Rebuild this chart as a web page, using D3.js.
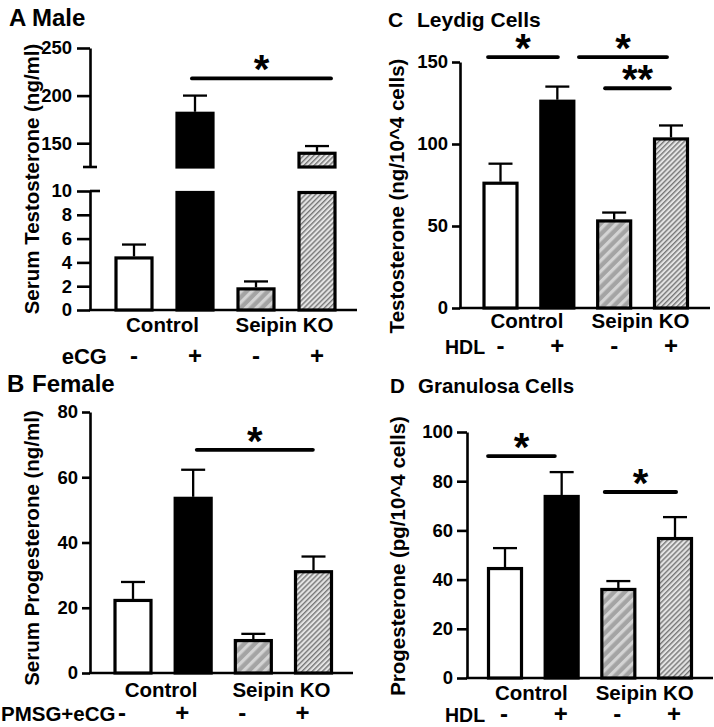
<!DOCTYPE html>
<html><head><meta charset="utf-8">
<script src="https://cdn.jsdelivr.net/npm/d3@7"></script>
<style>
body{margin:0;background:#fff}
svg{font-family:"Liberation Sans",Arial,Helvetica,sans-serif;font-weight:bold}
</style>
</head><body>
<svg id="chart" width="714" height="727"></svg>
<script>
// ---------------- DATA ----------------
const groups = ["Control", "Seipin KO"];
const conditions = ["Control -", "Control +", "Seipin KO -", "Seipin KO +"];
const signs = ["-", "+", "-", "+"];

// A: Male serum testosterone (ng/ml)
const maleMean = [4.5, 183, 1.9, 141];
const maleSem  = [1.0, 17, 0.5, 6];
const maleTicksLow = [0, 2, 4, 6, 8, 10];
const maleTicksHigh = [150, 200, 250];
const maleSig = [{from: 0.95, to: 3.23, y: 218, label: "*"}];

// B: Female serum progesterone (ng/ml)
const femaleMean = [22.7, 54, 10.4, 31.5];
const femaleSem  = [5.2, 8.3, 1.6, 4.2];
const femaleTicks = [0, 20, 40, 60, 80];
const femaleSig = [{from: 1.06, to: 2.99, y: 68.4, label: "*"}];

// C: Leydig cells testosterone (ng/10^4 cells)
const leydigMean = [77, 127, 54, 104];
const leydigSem  = [11, 8, 4.2, 7.3];
const leydigTicks = [0, 50, 100, 150];
const leydigSig = [
  {from: -0.22, to: 1.01, y: 153, label: "*"},
  {from: 1.38, to: 2.93, y: 153, label: "*"},
  {from: 1.84, to: 2.98, y: 134, label: "**"}
];

// D: Granulosa cells progesterone (pg/10^4 cells)
const granMean = [45.1, 74.4, 36.6, 57.3];
const granSem  = [7.7, 9.3, 2.8, 8.1];
const granTicks = [0, 20, 40, 60, 80, 100];
const granSig = [
  {from: -0.3, to: 0.88, y: 90.2, label: "*"},
  {from: 1.76, to: 3.02, y: 75.6, label: "*"}
];

// ---------------- DRAWING ----------------
const svg = d3.select("#chart");
const defs = svg.append("defs");

// hatch patterns
const pA = defs.append("pattern").attr("id", "hatchDark").attr("patternUnits", "userSpaceOnUse")
  .attr("width", 7.5).attr("height", 7.5).attr("patternTransform", "rotate(45)");
pA.append("rect").attr("width", 7.5).attr("height", 7.5).attr("fill", "#a4a4a4");
pA.append("rect").attr("x", 0).attr("width", 3.2).attr("height", 7.5).attr("fill", "#d4d4d4");

const pB = defs.append("pattern").attr("id", "hatchLight").attr("patternUnits", "userSpaceOnUse")
  .attr("width", 3.6).attr("height", 3.6).attr("patternTransform", "rotate(45)");
pB.append("rect").attr("width", 3.6).attr("height", 3.6).attr("fill", "#e4e4e4");
pB.append("rect").attr("x", 0).attr("width", 1.4).attr("height", 3.6).attr("fill", "#777777");

const fills = ["#ffffff", "#000000", "url(#hatchDark)", "url(#hatchLight)"];

function drawPanel(cfg) {
  const g = svg.append("g");
  const step = (cfg.c3 - cfg.c0) / 3;
  const pad = 1 - cfg.bw / step;
  const x = d3.scaleBand().domain(conditions)
    .range([cfg.c0 - step / 2, cfg.c3 + step / 2])
    .paddingInner(pad).paddingOuter(pad / 2);
  const xi = d3.scaleLinear().domain([0, 3]).range([cfg.c0, cfg.c3]);
  const cx = c => x(c) + x.bandwidth() / 2;

  const segs = cfg.segs.map(s => ({...s, y: d3.scaleLinear().domain(s.domain).range(s.range)}));
  const segFor = v => segs.find(s => v >= s.domain[0] && v <= s.domain[1]) || segs[segs.length - 1];
  const yOf = v => segFor(v).y(v);

  // axes
  segs.forEach((s, k) => {
    const ax = g.append("g").attr("transform", `translate(${cfg.axisX},0)`)
      .call(d3.axisLeft(s.y).tickValues(s.ticks).tickSize(cfg.tickSize).tickPadding(cfg.tickPad)
        .tickSizeOuter(0).tickFormat(d3.format("d")));
    ax.select(".domain").attr("stroke", "#000").attr("stroke-width", 2.6);
    ax.selectAll(".tick line").attr("stroke", "#000").attr("stroke-width", 2.6);
    ax.selectAll(".tick text").attr("fill", "#000").style("font-size", "18.5px")
      .style("font-family", "'Liberation Sans',Arial,sans-serif").style("font-weight", "bold");
    if (segs.length > 1) {
      if (k === 0) {
        g.append("line").attr("x1", cfg.axisX).attr("x2", cfg.axisX + 10)
          .attr("y1", s.y(s.domain[1])).attr("y2", s.y(s.domain[1]))
          .attr("stroke", "#000").attr("stroke-width", 2.6);
      } else {
        g.append("line").attr("x1", cfg.axisX - 7).attr("x2", cfg.axisX + 7)
          .attr("y1", s.y(s.domain[0])).attr("y2", s.y(s.domain[0]))
          .attr("stroke", "#000").attr("stroke-width", 2.6);
      }
    }
  });
  const base = segs[0].y(0);
  g.append("line").attr("x1", cfg.axisX - 1).attr("x2", cfg.xEnd).attr("y1", base).attr("y2", base)
    .attr("stroke", "#000").attr("stroke-width", 2.6);

  // error bars
  conditions.forEach((c, i) => {
    const top = cfg.mean[i] + cfg.sem[i];
    const yt = yOf(top), ym = yOf(cfg.mean[i]);
    g.append("line").attr("x1", cx(c)).attr("x2", cx(c)).attr("y1", ym).attr("y2", yt)
      .attr("stroke", "#000").attr("stroke-width", 2.3);
    g.append("line").attr("x1", cx(c) - 12).attr("x2", cx(c) + 12).attr("y1", yt).attr("y2", yt)
      .attr("stroke", "#000").attr("stroke-width", 2.3);
  });

  // bars (possibly broken)
  conditions.forEach((c, i) => {
    const v = cfg.mean[i];
    segs.forEach(s => {
      if (v <= s.domain[0]) return;
      const y0 = s.y(s.domain[0]);
      const y1 = s.y(Math.min(v, s.domain[1]));
      g.append("rect").attr("x", x(c) + 1.5).attr("width", x.bandwidth() - 3)
        .attr("y", y1 + 1.5).attr("height", Math.max(0, y0 - y1 - 1.5))
        .attr("fill", fills[i]).attr("stroke", "#000").attr("stroke-width", 3.2);
    });
  });

  // significance
  cfg.sig.forEach(s => {
    const yy = yOf(s.y);
    g.append("line").attr("x1", xi(s.from)).attr("x2", xi(s.to)).attr("y1", yy).attr("y2", yy)
      .attr("stroke", "#000").attr("stroke-width", 3.8).attr("stroke-linecap", "round");
    g.append("text").attr("x", (xi(s.from) + xi(s.to)) / 2).attr("y", yy - 17 + 22)
      .attr("text-anchor", "middle").style("font-size", "40px").text(s.label);
  });

  // group labels
  groups.forEach((gr, k) => {
    const gc = (cx(conditions[2 * k]) + cx(conditions[2 * k + 1])) / 2;
    g.append("text").attr("x", gc - 2).attr("y", cfg.groupY).attr("text-anchor", "middle")
      .style("font-size", "20.5px").text(gr);
  });
  // treatment signs
  conditions.forEach((c, i) => {
    g.append("text").attr("x", cx(c) + cfg.signDx).attr("y", cfg.signY).attr("text-anchor", "middle")
      .style("font-size", "24px").text(signs[i]);
  });
  g.append("text").attr("x", cfg.treatX).attr("y", cfg.signY).attr("text-anchor", cfg.treatAnchor)
    .style("font-size", cfg.treatSize).text(cfg.treat);

  // y title
  g.append("text").attr("transform", `translate(${cfg.titleX},${cfg.titleY}) rotate(-90)`)
    .attr("text-anchor", "middle").style("font-size", "20.5px").text(cfg.yTitle);

  // panel heading
  g.append("text").attr("x", cfg.letterX).attr("y", cfg.headY).style("font-size", cfg.headSize).text(cfg.letter);
  g.append("text").attr("x", cfg.headX).attr("y", cfg.headY).style("font-size", cfg.headSize).text(cfg.head);
}

drawPanel({
  mean: maleMean, sem: maleSem, sig: maleSig,
  axisX: 90, xEnd: 357, c0: 134, c3: 317, bw: 39,
  segs: [{domain: [0, 10], range: [310, 191], ticks: maleTicksLow},
         {domain: [125, 250], range: [167, 48], ticks: maleTicksHigh}],
  tickSize: 13, tickPad: 5,
  groupY: 332, signY: 364, signDx: 0, treat: "eCG", treatX: 107, treatAnchor: "end", treatSize: "22px",
  yTitle: "Serum Testosterone (ng/ml)", titleX: 39, titleY: 179,
  letter: "A", letterX: 9, head: "Male", headX: 32, headY: 26, headSize: "24px"
});

drawPanel({
  mean: femaleMean, sem: femaleSem, sig: femaleSig,
  axisX: 90, xEnd: 353, c0: 133, c3: 313.5, bw: 39,
  segs: [{domain: [0, 80], range: [673, 412], ticks: femaleTicks}],
  tickSize: 8, tickPad: 4,
  groupY: 697, signY: 721, signDx: -11, treat: "PMSG+eCG", treatX: 1, treatAnchor: "start", treatSize: "20.5px",
  yTitle: "Serum Progesterone (ng/ml)", titleX: 39, titleY: 548,
  letter: "B", letterX: 7, head: "Female", headX: 32, headY: 392, headSize: "24px"
});

drawPanel({
  mean: leydigMean, sem: leydigSem, sig: leydigSig,
  axisX: 460, xEnd: 710, c0: 500.5, c3: 671, bw: 36,
  segs: [{domain: [0, 150], range: [308, 62], ticks: leydigTicks}],
  tickSize: 8, tickPad: 4,
  groupY: 328, signY: 354, signDx: 0, treat: "HDL", treatX: 445, treatAnchor: "start", treatSize: "19.5px",
  yTitle: "Testosterone (ng/10^4 cells)", titleX: 404, titleY: 196,
  letter: "C", letterX: 388, head: "Leydig Cells", headX: 417, headY: 27, headSize: "21px"
});

drawPanel({
  mean: granMean, sem: granSem, sig: granSig,
  axisX: 467, xEnd: 713, c0: 505, c3: 675, bw: 36,
  segs: [{domain: [0, 100], range: [678, 432], ticks: granTicks}],
  tickSize: 10, tickPad: 4,
  groupY: 700, signY: 722, signDx: -1, treat: "HDL", treatX: 445, treatAnchor: "start", treatSize: "19.5px",
  yTitle: "Progesterone (pg/10^4 cells)", titleX: 405, titleY: 556,
  letter: "D", letterX: 390, head: "Granulosa Cells", headX: 418, headY: 393, headSize: "20.5px"
});
</script>
</body></html>
